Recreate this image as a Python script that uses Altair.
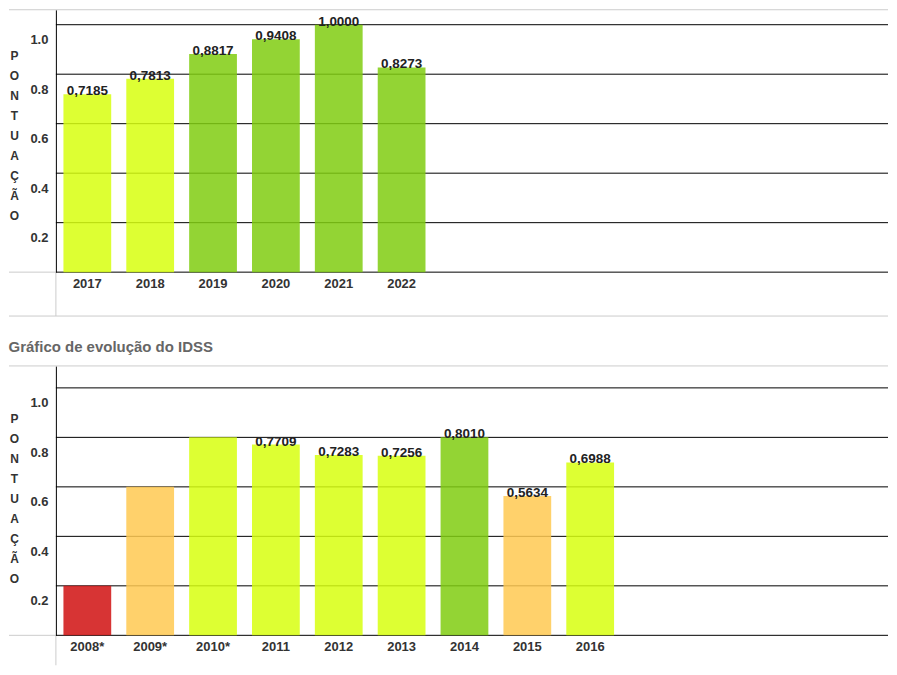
import altair as alt
import pandas as pd

FONT = "Liberation Sans, Arial, sans-serif"

# Painel superior (2017-2022)
anos_recentes = ["2017", "2018", "2019", "2020", "2021", "2022"]
idss_recentes = [0.7185, 0.7813, 0.8817, 0.9408, 1.0000, 0.8273]
faixa_recentes = ["0,60 a 0,79", "0,60 a 0,79", "0,80 a 1,00", "0,80 a 1,00", "0,80 a 1,00", "0,80 a 1,00"]

# Painel inferior (2008-2016)
anos_antigos = ["2008*", "2009*", "2010*", "2011", "2012", "2013", "2014", "2015", "2016"]
idss_antigos = [0.2, 0.6, 0.8, 0.7709, 0.7283, 0.7256, 0.8010, 0.5634, 0.6988]
faixa_antigos = ["0,00 a 0,19", "0,40 a 0,59", "0,60 a 0,79", "0,60 a 0,79", "0,60 a 0,79",
                 "0,60 a 0,79", "0,80 a 1,00", "0,40 a 0,59", "0,60 a 0,79"]

faixas = ["0,00 a 0,19", "0,40 a 0,59", "0,60 a 0,79", "0,80 a 1,00"]
cores = ["#D01111", "#FFC951", "#D7FF0F", "#80CC10"]

ticks_y = [0, 0.2, 0.4, 0.6, 0.8, 1.0]
titulo_y = list("PONTUAÇÃO")

W = 834
PX_POR_UNIDADE = 248
STEP = 63
GRAY = "#cccccc"


def painel(anos, valores, faixa, altura, extra_baixo, titulo=None):
    df = pd.DataFrame({"ano": anos, "idss": valores, "faixa": faixa})
    n = len(anos)
    ymax = altura / PX_POR_UNIDADE
    yscale = alt.Scale(domain=[0, ymax], nice=False, zero=True)
    yaxis = alt.Axis(
        values=ticks_y,
        labelExpr="datum.value == 0 ? '' : format(datum.value, '.1f')",
        labelFont=FONT, labelFontSize=13, labelFontWeight="bold", labelColor="#333333",
        labelPadding=8, labelOffset=15,
        ticks=False, domainColor="#000000", domainWidth=1, grid=False,
        title=titulo_y, titleAngle=0, titleX=-42, titleY=altura - 222,
        titleAlign="center", titleBaseline="top", titleLineHeight=20,
        titleFont=FONT, titleFontSize=12, titleFontWeight="bold", titleColor="#333333",
    )
    x = alt.X(
        "ano:N", sort=anos, title=None,
        scale=alt.Scale(range=[0, STEP * n], paddingInner=0.24, paddingOuter=0.12),
        axis=alt.Axis(domain=False, ticks=False, grid=False, labelAngle=0, labelFont=FONT,
                      labelFontSize=13, labelFontWeight="bold", labelColor="#333333",
                      labelPadding=5),
    )
    y = alt.Y("idss:Q", scale=yscale, axis=yaxis)
    base = alt.Chart(df)
    grade = alt.Chart(pd.DataFrame({"idss": ticks_y})).mark_rule(
        color="#000000", strokeWidth=1
    ).encode(
        y=alt.Y("idss:Q", scale=yscale, axis=yaxis),
        x=alt.value(0), x2=alt.value(W),
    )
    barras = base.mark_bar(opacity=0.85).encode(
        x=x, y=y,
        color=alt.Color("faixa:N", scale=alt.Scale(domain=faixas, range=cores), legend=None),
    )
    rotulos = base.transform_filter(
        "indexof(datum.ano, '*') < 0"
    ).transform_calculate(
        rotulo="replace(format(datum.idss, '.4f'), '.', ',')"
    ).mark_text(
        baseline="alphabetic", dy=1, font=FONT, fontSize=13.5, fontWeight="bold", color="#222222"
    ).encode(x=x, y=y, text="rotulo:N")

    um = alt.Chart(pd.DataFrame({"k": [0]}))
    topo = um.mark_rule(color=GRAY, strokeWidth=1).encode(
        x=alt.value(-47), x2=alt.value(W), y=alt.value(0))
    esq = um.mark_rule(color=GRAY, strokeWidth=1).encode(
        x=alt.value(-47), x2=alt.value(0), y=alt.value(altura))
    vert = um.mark_rule(color=GRAY, strokeWidth=1).encode(
        x=alt.value(0), y=alt.value(altura + 0.5), y2=alt.value(altura + extra_baixo))
    camadas = [topo, esq, vert, grade, barras, rotulos]
    if titulo is None:
        fundo = um.mark_rule(color=GRAY, strokeWidth=1).encode(
            x=alt.value(-47), x2=alt.value(W), y=alt.value(altura + extra_baixo))
        camadas.append(fundo)
    props = dict(width=W, height=altura)
    if titulo is not None:
        props["title"] = alt.TitleParams(
            titulo, anchor="start", frame="bounds", font=FONT, fontSize=15,
            fontWeight="bold", color="#666666", baseline="alphabetic", offset=-2,
        )
    return alt.layer(*camadas).properties(**props)


sup = painel(anos_recentes, idss_recentes, faixa_recentes, 263, 44)
inf = painel(anos_antigos, idss_antigos, faixa_antigos, 270, 30,
             titulo="Gráfico de evolução do IDSS")

chart = alt.vconcat(sup, inf, spacing=23).resolve_scale(
    x="independent", y="independent"
).properties(padding=0).configure_view(strokeWidth=0)

chart.save("out.html", embed_options={"renderer": "svg", "actions": False})
